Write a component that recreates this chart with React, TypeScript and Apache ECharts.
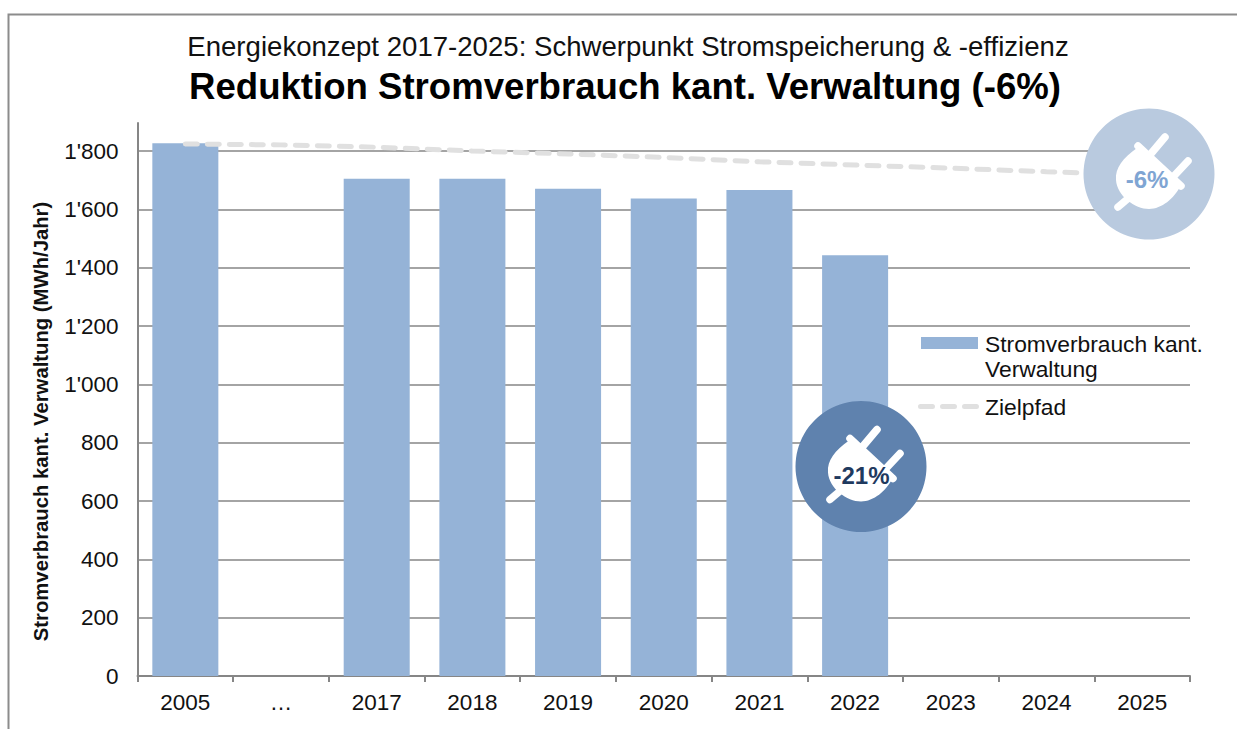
import React, { useEffect, useRef } from "react";
import * as echarts from "echarts";

const categories = ["2005", "…", "2017", "2018", "2019", "2020", "2021", "2022", "2023", "2024", "2025"];
const consumption = [1827, null, 1705, 1705, 1671, 1637, 1666, 1443, null, null, null];
const targetPath = [1824, 1821, 1813, 1800, 1790, 1778, 1763, 1752, 1741, 1729, 1718];
const yTickStep = 200;
const barName = "Stromverbrauch kant. Verwaltung";
const lineName = "Zielpfad";
const subtitle = "Energiekonzept 2017-2025: Schwerpunkt Stromspeicherung & -effizienz";
const mainTitle = "Reduktion Stromverbrauch kant. Verwaltung (-6%)";
const yName = "Stromverbrauch kant. Verwaltung (MWh/Jahr)";

const FONT = "Liberation Sans";
const GREY = "#868686";
const dash = (x: number) =>
  `M${x + 2.5} 0H${x + 14.5}A2.5 2.5 0 0 1 ${x + 14.5} 5H${x + 2.5}A2.5 2.5 0 0 1 ${x + 2.5} 0Z`;

echarts.graphic.registerShape(
  "plugBody",
  echarts.graphic.extendPath("M-12 -26 C-26 -16 -34 -6 -33 6 C-32 22 -14 35 0 35 C13 35 25 24 31 13 Z", {})
);

function plug(
  cx: number,
  cy: number,
  label: string,
  circleColor: string,
  textColor: string,
  labelDx: number,
  labelDy: number
) {
  const bar = (x1: number, y1: number, x2: number, y2: number) => ({
    type: "line",
    z: 101,
    shape: { x1, y1, x2, y2 },
    style: { stroke: "#fff", lineWidth: 7.5, lineCap: "round" },
  });
  return {
    type: "group",
    x: cx,
    y: cy,
    children: [
      { type: "circle", z: 100, shape: { cx: 0, cy: 0, r: 65.5 }, style: { fill: circleColor } },
      { type: "plugBody", z: 101, style: { fill: "#fff" } },
      bar(-11, -28, 32, 12),
      bar(0, -18, 16, -37),
      bar(24, 3, 39, -13),
      bar(-18, 22, -31, 33),
      {
        type: "text",
        z: 102,
        x: labelDx,
        y: labelDy,
        style: {
          text: label,
          fill: textColor,
          font: `bold 24px "${FONT}"`,
          textAlign: "center",
          textVerticalAlign: "middle",
        },
      },
    ],
  };
}

export default function App() {
  const ref = useRef<HTMLDivElement>(null);
  useEffect(() => {
    document.body.style.margin = "0";
    document.body.style.background = "#fff";
    const chart = echarts.init(ref.current!, undefined, { renderer: "svg" });
    const tickFont = { fontFamily: FONT, fontSize: 22.5, color: "#111" };
    chart.setOption({
      animation: false,
      backgroundColor: "#fff",
      title: [
        {
          text: subtitle,
          left: 623,
          top: 27,
          textAlign: "center",
          textStyle: { fontFamily: FONT, fontSize: 27.6, fontWeight: "normal", color: "#111" },
        },
        {
          text: mainTitle,
          left: 620,
          top: 63,
          textAlign: "center",
          textStyle: { fontFamily: FONT, fontSize: 36.6, fontWeight: "bold", color: "#000" },
        },
      ],
      grid: { left: 137.5, right: 47, top: 123, bottom: 53 },
      legend: [
        {
          left: 921,
          top: 331,
          orient: "vertical",
          itemWidth: 59,
          itemHeight: 50,
          padding: 0,
          selectedMode: false,
          formatter: () => "Stromverbrauch kant.\nVerwaltung",
          textStyle: { ...tickFont, fontSize: 22.8, lineHeight: 25 },
          data: [{ name: barName, icon: "path://M0 6H57V18H0Z M59 50L59 50 M0 0L0 0" }],
        },
        {
          left: 918,
          top: 395,
          orient: "vertical",
          itemWidth: 62,
          itemHeight: 5,
          padding: 0,
          selectedMode: false,
          textStyle: { ...tickFont, fontSize: 22.8 },
          data: [{ name: lineName, icon: `path://${dash(0)}${dash(22)}${dash(44)}M62 0L62 0` }],
        },
      ],
      xAxis: {
        type: "category",
        data: categories,
        boundaryGap: true,
        axisLine: { lineStyle: { color: GREY, width: 2 } },
        axisTick: { show: true, length: 6, lineStyle: { color: GREY, width: 2 } },
        axisLabel: { ...tickFont, margin: 15, interval: 0 },
      },
      yAxis: {
        type: "value",
        min: 0,
        max: 1896,
        interval: yTickStep,
        name: yName,
        nameLocation: "middle",
        nameGap: 87,
        nameTextStyle: { fontFamily: FONT, fontSize: 20.3, fontWeight: "bold", color: "#111", padding: [0, 44, 0, 0] },
        axisLine: { show: true, lineStyle: { color: GREY, width: 2 } },
        axisTick: { show: false },
        axisLabel: {
          ...tickFont,
          margin: 19,
          showMaxLabel: false,
          formatter: (v: number) => String(v).replace(/(\d)(?=(\d{3})+$)/g, "$1'"),
        },
        splitLine: { show: true, showMaxLine: false, lineStyle: { color: GREY, width: 1.5 } },
      },
      series: [
        {
          name: barName,
          type: "bar",
          data: consumption,
          barWidth: "69%",
          itemStyle: { color: "#95B3D7" },
          z: 2,
        },
        {
          name: lineName,
          type: "line",
          data: targetPath,
          symbol: "none",
          lineStyle: { color: "#E0E0E0", width: 5, type: [12, 10], cap: "round" },
          itemStyle: { color: "#E0E0E0" },
          z: 3,
        },
      ],
      graphic: [
        {
          type: "polyline",
          shape: { points: [[8.5, 729], [8.5, 14.5], [1237, 14.5]] },
          style: { stroke: "#8c8c8c", lineWidth: 2, fill: "none" },
        },
        plug(1149, 174, "-6%", "#B9CADF", "#7FA5D3", -2, 5),
        plug(861, 466.5, "-21%", "#5F82AE", "#1F3A5F", 0.5, 8.5),
      ],
    });
    return () => chart.dispose();
  }, []);
  return <div ref={ref} style={{ position: "absolute", left: 0, top: 0, width: 1237, height: 729 }} />;
}
